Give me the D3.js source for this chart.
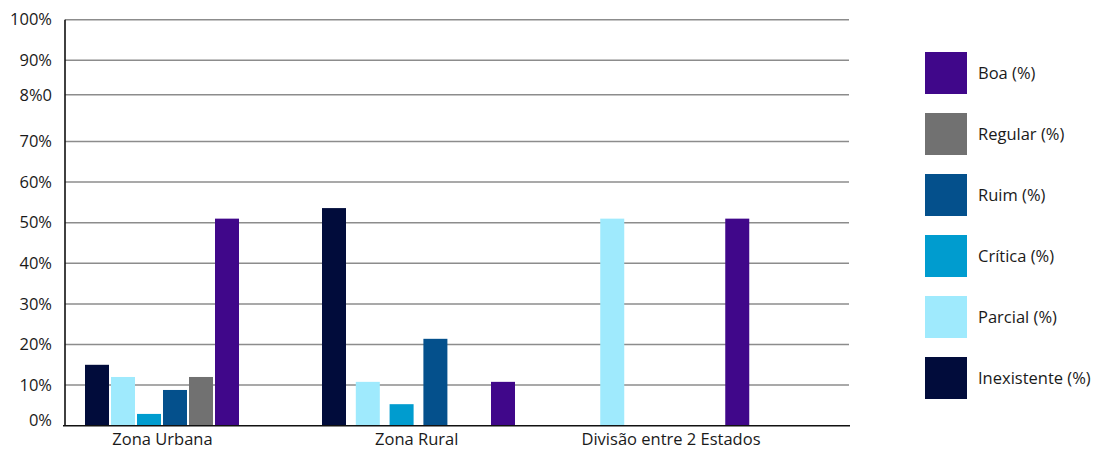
<!DOCTYPE html>
<html>
<head>
<meta charset="utf-8">
<script src="https://cdn.jsdelivr.net/npm/d3@7"></script>
<style>
  body { margin: 0; background: #fff; }
  svg text { font-family: "Open Sans", "Noto Sans", sans-serif; fill: #1a1a1a; }
</style>
</head>
<body>
<div id="chart"></div>
<script>
// data
const categories = ['Zona Urbana', 'Zona Rural', 'Divisão entre 2 Estados'];
const series = ['Inexistente (%)', 'Parcial (%)', 'Crítica (%)', 'Ruim (%)', 'Regular (%)', 'Boa (%)'];
const seriesColors = ['#010c3b', '#9feafd', '#009ccf', '#04508c', '#717171', '#40078a'];
const inexistente = [15, 53.6, 0];
const parcial = [12, 10.8, 51];
const critica = [2.9, 5.3, 0];
const ruim = [8.8, 21.4, 0];
const regular = [12, 0, 0];
const boa = [51, 10.8, 51];
const tickValues = [0, 10, 20, 30, 40, 50, 60, 70, 81.5, 90, 100];
const tickLabels = ['0%', '10%', '20%', '30%', '40%', '50%', '60%', '70%', '8%0', '90%', '100%'];
const legendOrder = ['Boa (%)', 'Regular (%)', 'Ruim (%)', 'Crítica (%)', 'Parcial (%)', 'Inexistente (%)'];

const values = [inexistente, parcial, critica, ruim, regular, boa];

const width = 1101;
const height = 450;
const plot = { left: 65, right: 849, top: 19.7, bottom: 425.7 };
const fontSize = '16.5px';

// the groups in the original are not evenly laid out, so each has its own start and slot step
const groupStart = [85, 322, 569];
const groupStep = [26, 33.8, 31.25];
const barWidth = 24;

const svg = d3.select('#chart')
    .append('svg')
    .attr('width', width)
    .attr('height', height);

const y = d3.scaleLinear()
    .domain([0, 100])
    .range([plot.bottom, plot.top]);

const x0 = d3.scalePoint()
    .domain(categories)
    .range([162.5, 671]);

// gridlines
svg.append('g')
    .selectAll('line')
    .data(tickValues.filter(d => d > 0))
    .enter()
    .append('line')
    .attr('x1', plot.left)
    .attr('x2', plot.right)
    .attr('y1', d => y(d))
    .attr('y2', d => y(d))
    .attr('stroke', '#8c8c8c')
    .attr('stroke-width', 1.5);

// y axis labels
const yAxis = d3.axisLeft(y)
    .tickValues(tickValues)
    .tickFormat((d, i) => tickLabels[i])
    .tickSize(0)
    .tickPadding(13);

const yg = svg.append('g')
    .attr('transform', `translate(${plot.left},0)`)
    .call(yAxis);
yg.select('.domain').remove();
yg.selectAll('text')
    .style('font-size', fontSize)
    .style('font-family', '"Open Sans", sans-serif')
    .attr('fill', '#1a1a1a');
yg.selectAll('.tick')
    .filter(d => d === 0)
    .select('text')
    .attr('dy', '0.0em');

// bars
categories.forEach((cat, ci) => {
    const step = groupStep[ci];
    const x1 = d3.scaleBand()
        .domain(series)
        .range([groupStart[ci], groupStart[ci] + 5 * step + barWidth])
        .paddingInner(1 - barWidth / step)
        .paddingOuter(0);

    svg.append('g')
        .selectAll('rect')
        .data(series.map((s, si) => ({ s, v: values[si][ci], c: seriesColors[si] })))
        .enter()
        .append('rect')
        .attr('x', d => x1(d.s))
        .attr('y', d => y(d.v))
        .attr('width', x1.bandwidth())
        .attr('height', d => y(0) - y(d.v))
        .attr('fill', d => d.c);
});

// axis lines
svg.append('line')
    .attr('x1', plot.left).attr('x2', plot.left)
    .attr('y1', plot.top).attr('y2', plot.bottom)
    .attr('stroke', '#111').attr('stroke-width', 1.6);
svg.append('line')
    .attr('x1', 63).attr('x2', 850)
    .attr('y1', plot.bottom).attr('y2', plot.bottom)
    .attr('stroke', '#111').attr('stroke-width', 1.6);

// category labels
svg.append('g')
    .selectAll('text')
    .data(categories)
    .enter()
    .append('text')
    .attr('x', d => x0(d))
    .attr('y', 445)
    .attr('text-anchor', 'middle')
    .style('font-size', fontSize)
    .text(d => d);

// legend
const ly = d3.scalePoint()
    .domain(legendOrder)
    .range([52, 357]);

const legend = svg.append('g')
    .selectAll('g')
    .data(legendOrder)
    .enter()
    .append('g')
    .attr('transform', d => `translate(925,${ly(d)})`);

legend.append('rect')
    .attr('width', 42)
    .attr('height', 42)
    .attr('fill', d => seriesColors[series.indexOf(d)]);

legend.append('text')
    .attr('x', 53)
    .attr('y', 21)
    .attr('dy', '0.35em')
    .style('font-size', fontSize)
    .text(d => d);
</script>
</body>
</html>
